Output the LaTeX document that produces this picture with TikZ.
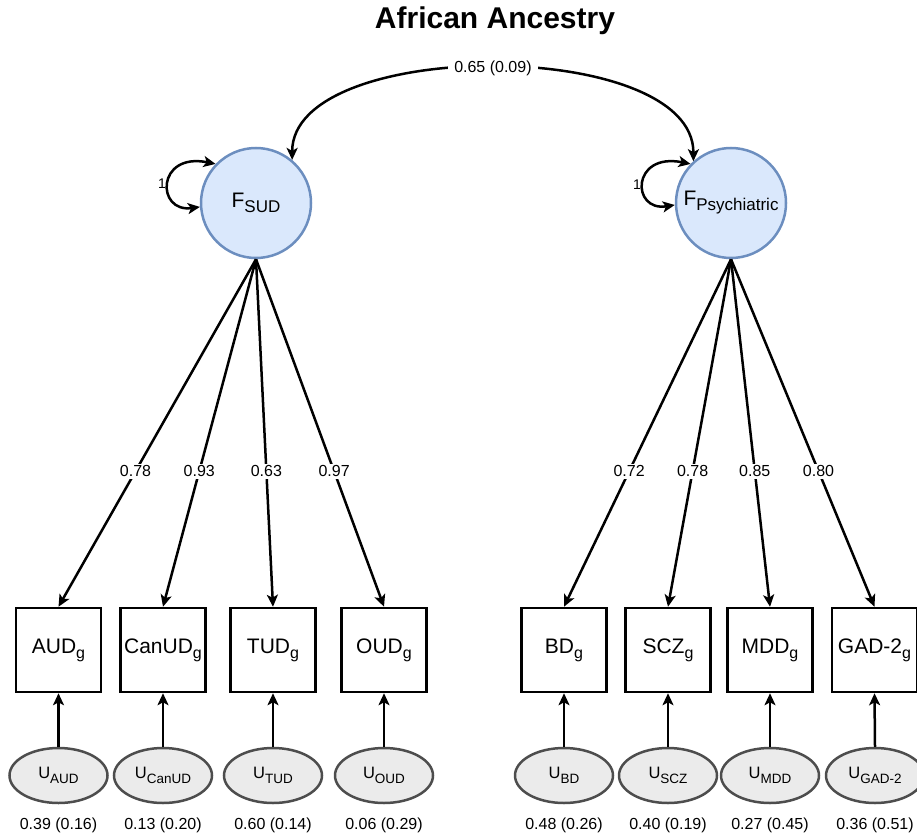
\documentclass[tikz,border=0pt]{standalone}
\usepackage{fontspec}
\setmainfont{Liberation Sans}
\usetikzlibrary{arrows.meta,shapes.geometric}
\definecolor{fcirc}{HTML}{6C8EBF}
\definecolor{fcircfill}{HTML}{DAE8FC}
\definecolor{ugray}{HTML}{4D4D4D}
\definecolor{ufill}{HTML}{EBEBEB}
\newcommand{\gsub}{\raisebox{-5pt}{\fontsize{16}{16}\selectfont g}}
\newcommand{\usub}[1]{U\raisebox{-5pt}{\fontsize{13.5}{13.5}\selectfont #1}}
\newcommand{\fsub}[1]{F\raisebox{-5pt}{\fontsize{17}{17}\selectfont #1}}
\begin{document}
\begin{tikzpicture}[x=1pt,y=-1pt,
  arr/.style={line width=2.5pt,-{Stealth[length=12pt,width=11pt,inset=3pt]}},
  darr/.style={line width=2.5pt,{Stealth[length=12pt,width=11pt,inset=3pt]}-{Stealth[length=12pt,width=11pt,inset=3pt]}},
  latent/.style={circle,draw=fcirc,fill=fcircfill,line width=2.5pt,minimum size=110pt,inner sep=0pt,font=\fontsize{21}{21}\selectfont},
  obs/.style={rectangle,draw=black,line width=2.5pt,minimum width=85pt,minimum height=84pt,inner sep=0pt,font=\fontsize{21}{21}\selectfont},
  uell/.style={ellipse,draw=ugray,fill=ufill,line width=2.5pt,minimum width=98pt,minimum height=55pt,inner sep=0pt,font=\fontsize{16.5}{16.5}\selectfont},
  num/.style={font=\fontsize{16}{16}\selectfont,inner sep=2pt},
  lab/.style={num,fill=white,inner sep=2pt},
  one/.style={font=\fontsize{14}{14}\selectfont,inner sep=0pt}
]
\useasboundingbox (0,0) rectangle (917,837);

\node[font=\fontsize{30}{30}\selectfont\bfseries] (title) at (495,21) {African Ancestry};

\node[latent] (FSUD) at (256,203) {\fsub{SUD}};
\node[latent] (FPSY) at (731,203) {\fsub{Psychiatric}};

% observed boxes
\node[obs] (AUD) at (58.5,650) {AUD\gsub};
\node[obs] (CAN) at (163,650) {CanUD\gsub};
\node[obs] (TUD) at (273,650) {TUD\gsub};
\node[obs] (OUD) at (384,650) {OUD\gsub};
\node[obs] (BD) at (564,650) {BD\gsub};
\node[obs] (SCZ) at (668,650) {SCZ\gsub};
\node[obs] (MDD) at (770,650) {MDD\gsub};
\node[obs] (GAD) at (874.5,650) {GAD-2\gsub};

% residual ellipses
\node[uell] (uAUD) at (58.5,775.5) {\usub{AUD}};
\node[uell] (uCAN) at (163,775.5) {\usub{CanUD}};
\node[uell] (uTUD) at (273,775.5) {\usub{TUD}};
\node[uell] (uOUD) at (384,775.5) {\usub{OUD}};
\node[uell] (uBD) at (564,775.5) {\usub{BD}};
\node[uell] (uSCZ) at (668,775.5) {\usub{SCZ}};
\node[uell] (uMDD) at (770,775.5) {\usub{MDD}};
\node[uell] (uGAD) at (875,775.5) {\usub{GAD-2}};

% residual variances
\node[num] (vAUD) at (58.5,825) {0.39 (0.16)};
\node[num] (vCAN) at (163,825) {0.13 (0.20)};
\node[num] (vTUD) at (273,825) {0.60 (0.14)};
\node[num] (vOUD) at (384,825) {0.06 (0.29)};
\node[num] (vBD) at (564,825) {0.48 (0.26)};
\node[num] (vSCZ) at (668,825) {0.40 (0.19)};
\node[num] (vMDD) at (770,825) {0.27 (0.45)};
\node[num] (vGAD) at (875,825) {0.36 (0.51)};

% residual arrows
\foreach \n in {AUD,CAN,TUD,OUD,BD,SCZ,MDD,GAD}
  \draw[arr] (u\n.north) -- (\n.south);

% loadings
\draw[arr] (FSUD.south) -- node[lab,pos=0.61] {0.78} (AUD.north);
\draw[arr] (FSUD.south) -- node[lab,pos=0.61] {0.93} (CAN.north);
\draw[arr] (FSUD.south) -- node[lab,pos=0.61] {0.63} (TUD.north);
\draw[arr] (FSUD.south) -- node[lab,pos=0.61] {0.97} (OUD.north);
\draw[arr] (FPSY.south) -- node[lab,pos=0.61] {0.72} (BD.north);
\draw[arr] (FPSY.south) -- node[lab,pos=0.61] {0.78} (SCZ.north);
\draw[arr] (FPSY.south) -- node[lab,pos=0.61] {0.85} (MDD.north);
\draw[arr] (FPSY.south) -- node[lab,pos=0.61] {0.80} (GAD.north);

% covariance
\draw[darr] (FSUD.50) .. controls (292,37) and (694,37) .. node[lab,pos=0.5,inner xsep=6pt] {0.65 (0.09)} (FPSY.132);

% variances of factors
\draw[darr] (FSUD.184) .. controls (156,213) and (156,152) .. (FSUD.136);
\node[one] (oneSUD) at (162,184) {1};
\draw[darr] (FPSY.182) .. controls (631,212) and (631,152) .. (FPSY.136);
\node[one] (onePSY) at (637,185) {1};
\end{tikzpicture}
\end{document}
